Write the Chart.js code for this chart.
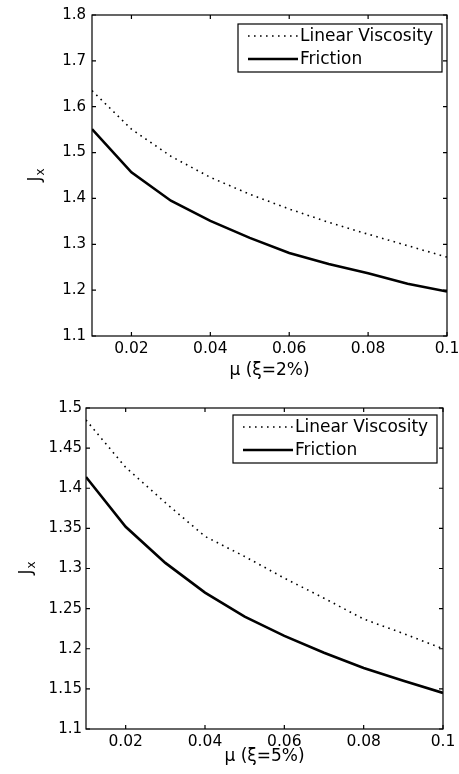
<!DOCTYPE html>
<html lang="en">
<head>
<meta charset="UTF-8">
<title>Jx vs mu</title>
<script src="https://cdn.jsdelivr.net/npm/chart.js"></script>
<style>
  body { margin: 0; background: #fff; }
  canvas { position: absolute; left: 0; }
</style>
</head>
<body>
<canvas id="chartTop" width="459" height="390" style="top:0"></canvas>
<canvas id="chartBottom" width="459" height="384" style="top:390px"></canvas>

<script>
// data
const mu = [0.01, 0.02, 0.03, 0.04, 0.05, 0.06, 0.07, 0.08, 0.09, 0.1];
const viscosity2 = [1.635, 1.551, 1.492, 1.446, 1.409, 1.377, 1.348, 1.322, 1.297, 1.272];
const friction2  = [1.551, 1.457, 1.395, 1.351, 1.314, 1.281, 1.257, 1.237, 1.214, 1.197];
const viscosity5 = [1.485, 1.426, 1.382, 1.340, 1.315, 1.288, 1.263, 1.237, 1.219, 1.200];
const friction5  = [1.414, 1.352, 1.307, 1.270, 1.240, 1.216, 1.195, 1.176, 1.160, 1.145];

const xTicks = [0.02, 0.04, 0.06, 0.08, 0.1];
const yTicksTop = [1.1, 1.2, 1.3, 1.4, 1.5, 1.6, 1.7, 1.8];
const yTicksBottom = [1.1, 1.15, 1.2, 1.25, 1.3, 1.35, 1.4, 1.45, 1.5];

const FONT = '"DejaVu Sans", sans-serif';
Chart.defaults.font.family = FONT;
Chart.defaults.font.size = 15;
Chart.defaults.color = '#000';

// box, inward ticks, J_x label and a framed legend, matlab style
const matlabAxes = {
  id: 'matlabAxes',
  afterDatasetsDraw(chart, args, opts) {
    const { ctx, chartArea: a, scales } = chart;
    ctx.save();
    ctx.strokeStyle = '#000';
    ctx.fillStyle = '#000';
    ctx.lineWidth = 1.2;
    ctx.setLineDash([]);
    ctx.strokeRect(a.left, a.top, a.width, a.height);

    ctx.beginPath();
    scales.x.ticks.forEach(t => {
      const px = scales.x.getPixelForValue(t.value);
      ctx.moveTo(px, a.bottom); ctx.lineTo(px, a.bottom - 4);
      ctx.moveTo(px, a.top); ctx.lineTo(px, a.top + 4);
    });
    scales.y.ticks.forEach(t => {
      const py = scales.y.getPixelForValue(t.value);
      ctx.moveTo(a.left, py); ctx.lineTo(a.left + 4, py);
      ctx.moveTo(a.right, py); ctx.lineTo(a.right - 4, py);
    });
    ctx.stroke();

    // y title J with subscript x
    ctx.save();
    ctx.translate(opts.yTitleX, (a.top + a.bottom) / 2);
    ctx.rotate(-Math.PI / 2);
    ctx.textBaseline = 'alphabetic';
    ctx.font = '17px ' + FONT;
    const jw = ctx.measureText('J').width;
    ctx.font = '12px ' + FONT;
    const xw = ctx.measureText('x').width;
    const sx = -(jw + xw) / 2;
    ctx.font = '17px ' + FONT;
    ctx.fillText('J', sx, 6);
    ctx.font = '12px ' + FONT;
    ctx.fillText('x', sx + jw + 1, 10);
    ctx.restore();

    // legend
    const w = 204, h = 48;
    const lx = a.right - opts.insetRight - w;
    const ly = a.top + opts.insetTop;
    ctx.fillStyle = '#fff';
    ctx.fillRect(lx, ly, w, h);
    ctx.strokeRect(lx, ly, w, h);
    ctx.font = '17px ' + FONT;
    ctx.textBaseline = 'middle';
    ctx.fillStyle = '#000';
    chart.data.datasets.forEach((ds, i) => {
      const rowY = ly + 12 + i * 23;
      ctx.beginPath();
      ctx.lineWidth = ds.borderWidth;
      ctx.setLineDash(ds.borderDash || []);
      ctx.moveTo(lx + 10, rowY);
      ctx.lineTo(lx + 60, rowY);
      ctx.stroke();
      ctx.setLineDash([]);
      ctx.fillText(ds.label, lx + 62, rowY + 1);
    });
    ctx.restore();
  }
};

function fmt(v) {
  return String(Number(v.toFixed(2)));
}

function makeChart(id, visc, fric, cfg) {
  return new Chart(document.getElementById(id), {
    type: 'line',
    data: {
      datasets: [{
        label: 'Linear Viscosity',
        data: mu.map((m, i) => ({ x: m, y: visc[i] })),
        borderColor: '#000',
        borderWidth: 1.6,
        borderDash: [1.6, 4.4],
        pointRadius: 0,
        tension: 0
      }, {
        label: 'Friction',
        data: mu.map((m, i) => ({ x: m, y: fric[i] })),
        borderColor: '#000',
        borderWidth: 2.6,
        pointRadius: 0,
        tension: 0
      }]
    },
    options: {
      responsive: false,
      animation: false,
      layout: { padding: { left: 0, right: cfg.padRight, top: cfg.padTop, bottom: 0 } },
      plugins: {
        legend: { display: false },
        tooltip: { enabled: false },
        matlabAxes: { insetRight: cfg.legendRight, insetTop: cfg.legendTop, yTitleX: cfg.yTitleX }
      },
      scales: {
        x: {
          type: 'linear',
          min: 0.01,
          max: 0.1,
          grid: { display: false, drawTicks: false },
          border: { display: false },
          afterBuildTicks: s => { s.ticks = xTicks.map(v => ({ value: v })); },
          afterFit: s => { s.height = cfg.xHeight; s.paddingLeft = 0; s.paddingRight = 0; },
          ticks: { padding: 4, maxRotation: 0, font: { size: 15.5 }, callback: v => fmt(v) },
          title: { display: true, text: cfg.xTitle, font: { size: 17 }, padding: { top: 0, bottom: cfg.xTitlePad } }
        },
        y: {
          min: cfg.yTicks[0],
          max: cfg.yTicks[cfg.yTicks.length - 1],
          grid: { display: false, drawTicks: false },
          border: { display: false },
          afterBuildTicks: s => { s.ticks = cfg.yTicks.map(v => ({ value: v })); },
          afterFit: s => { s.width = cfg.yWidth; },
          ticks: { padding: cfg.yPad, callback: v => fmt(v) },
          title: { display: false }
        }
      }
    },
    plugins: [matlabAxes]
  });
}

makeChart('chartTop', viscosity2, friction2, {
  xTitle: 'μ (ξ=2%)', yTicks: yTicksTop,
  padRight: 12, padTop: 14, xHeight: 54, yWidth: 92,
  xTitlePad: 9, yPad: 6, yTitleX: 34,
  legendRight: 5, legendTop: 9
});

makeChart('chartBottom', viscosity5, friction5, {
  xTitle: 'μ (ξ=5%)', yTicks: yTicksBottom,
  padRight: 16, padTop: 18, xHeight: 45, yWidth: 86,
  xTitlePad: 7, yPad: 4, yTitleX: 25,
  legendRight: 6, legendTop: 7
});
</script>
</body>
</html>
